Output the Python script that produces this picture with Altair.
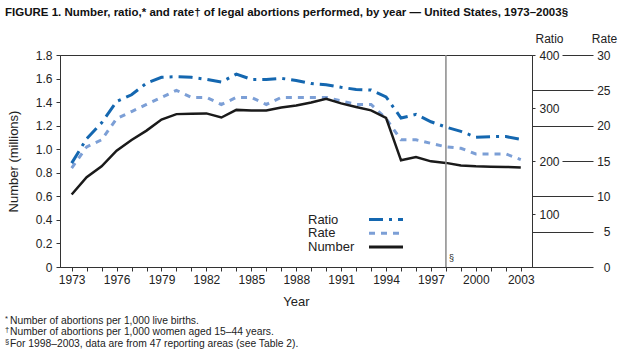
import altair as alt
import pandas as pd

# ---------------- data ----------------
years = list(range(1973, 2004))
number_millions = [0.616, 0.763, 0.855, 0.988, 1.079, 1.158, 1.252, 1.298, 1.301, 1.304,
                   1.269, 1.334, 1.329, 1.328, 1.354, 1.371, 1.397, 1.429, 1.389, 1.359,
                   1.330, 1.267, 0.906, 0.934, 0.897, 0.884, 0.862, 0.855, 0.852, 0.850,
                   0.845]
ratio_vals = [196, 242, 272, 312, 325, 347, 358, 359, 358, 354,
              349, 364, 354, 354, 356, 352, 346, 344, 339, 335,
              334, 321, 281, 288, 274, 264, 256, 245, 246, 246,
              241]
rate_vals = [14, 17, 18, 21, 22, 23, 24, 25, 24, 24,
             23, 24, 24, 23, 24, 24, 24, 24, 23.5, 23,
             23, 21, 18, 18, 17.5, 17, 16.8, 16, 16, 16,
             15.2]

left_ticks = [0, 0.2, 0.4, 0.6, 0.8, 1.0, 1.2, 1.4, 1.6, 1.8]
ratio_ticks = [100, 200, 300, 400]
rate_ticks_long = [0, 5, 10, 20, 25]
rate_ticks_short = [15, 30]
reference_year = [1998]

legend_labels = ["Ratio", "Rate", "Number"]
title_text = ("FIGURE 1. Number, ratio,* and rate\u2020 of legal abortions performed, "
              "by year \u2014 United States, 1973\u20132003\u00a7")
footnote_marks = ["*", "\u2020", "\u00a7"]
footnote_texts = ["Number of abortions per 1,000 live births.",
                  "Number of abortions per 1,000 women aged 15\u201344 years.",
                  "For 1998\u20132003, data are from 47 reporting areas (see Table 2)."]

# ---------------- styling ----------------
W, H = 472, 212
FONT = "Liberation Sans"
C_RATIO = "#1467b0"
C_RATE = "#7c9fd6"
C_NUM = "#1a1a1a"
AX = "#333333"

df = pd.DataFrame({"Year": years, "Number": number_millions,
                   "Ratio": ratio_vals, "Rate": rate_vals})
base = alt.Chart(df)

x_enc = alt.X(
    "Year:Q",
    scale=alt.Scale(domain=[1972.22, 2003.75], nice=False, zero=False),
    axis=alt.Axis(values=years, format="d",
                  labelExpr="(datum.value - 1973) % 3 == 0 ? datum.label : ''",
                  title="Year", titleFontSize=13, titleFontWeight="normal",
                  titlePadding=10, tickSize=4, labelPadding=3, labelFontSize=12,
                  grid=False, labelFlush=False, labelOverlap=False),
)

rate_line = base.mark_line(color=C_RATE, strokeWidth=3, strokeDash=[6, 6]).encode(
    x=x_enc,
    y=alt.Y("Rate:Q", scale=alt.Scale(domain=[0, 30], nice=False, zero=True),
            axis=alt.Axis(orient="right", values=rate_ticks_long, tickSize=61,
                          domain=False, grid=False, labelAlign="right",
                          labelPadding=17, labelFontSize=12,
                          title="Rate", titleAngle=0, titleX=72, titleY=-10,
                          titleAlign="center", titleBaseline="bottom",
                          titleFontSize=12, titleFontWeight="normal")),
)

rate_short_axis = base.mark_line(opacity=0).encode(
    x=x_enc,
    y=alt.Y("Rate:Q", scale=alt.Scale(domain=[0, 30], nice=False, zero=True),
            axis=alt.Axis(orient="right", values=rate_ticks_short, tickSize=31,
                          offset=30, domain=False, grid=False, labelAlign="right",
                          labelPadding=17, labelFontSize=12, title=None)),
)

ratio_line = base.mark_line(color=C_RATIO, strokeWidth=3,
                            strokeDash=[14, 6, 3, 6]).encode(
    x=x_enc,
    y=alt.Y("Ratio:Q", scale=alt.Scale(domain=[0, 400], nice=False, zero=True),
            axis=alt.Axis(orient="right", values=ratio_ticks, tickSize=3,
                          labelPadding=4, labelFontSize=12, grid=False,
                          title="Ratio", titleAngle=0, titleX=17, titleY=-10,
                          titleAlign="center", titleBaseline="bottom",
                          titleFontSize=12, titleFontWeight="normal")),
)

number_line = base.mark_line(color=C_NUM, strokeWidth=2.5).encode(
    x=x_enc,
    y=alt.Y("Number:Q", scale=alt.Scale(domain=[0, 1.8], nice=False, zero=True),
            axis=alt.Axis(orient="left", values=left_ticks, tickSize=4,
                          labelPadding=4, labelFontSize=12, grid=False,
                          labelExpr="datum.value == 0 ? '0' : format(datum.value, '.1f')",
                          title="Number (millions)", titleFontSize=13,
                          titleFontWeight="normal", titlePadding=15)),
)

ref_df = pd.DataFrame({"Year": reference_year, "mark": ["\u00a7"]})
ref_rule = alt.Chart(ref_df).mark_rule(color="#8a8a8a", strokeWidth=1.5).encode(x=x_enc)
ref_text = alt.Chart(ref_df).mark_text(align="left", baseline="middle", dx=3,
                                       fontSize=9, font=FONT, color="#222").encode(
    x=x_enc, y=alt.value(H - 9), text="mark:N")

# legend (custom, label on the left of the line sample)
leg_df = pd.DataFrame({"label": legend_labels})
leg_y = alt.Y("label:N", sort=legend_labels,
              scale=alt.Scale(type="point", range=[164.5, 192], padding=0),
              axis=None)
leg_text = alt.Chart(leg_df).mark_text(align="left", baseline="middle",
                                       fontSize=13, font=FONT, color="#222").encode(
    x=alt.value(248), y=leg_y, text="label:N")
leg_rule = alt.Chart(leg_df).mark_rule(strokeWidth=3).encode(
    x=alt.value(309), x2=alt.value(343), y=leg_y,
    color=alt.Color("label:N", scale=alt.Scale(domain=legend_labels,
                                               range=[C_RATIO, C_RATE, C_NUM]),
                    legend=None),
    strokeDash=alt.StrokeDash("label:N", scale=alt.Scale(
        domain=legend_labels, range=[[14, 6, 3, 6], [6, 6], [1, 0]]), legend=None),
)

# title & footnotes as text
title_df = pd.DataFrame({"t": [title_text]})
title_mark = alt.Chart(title_df).mark_text(align="left", baseline="middle",
                                           fontSize=11.5, fontWeight="bold",
                                           font=FONT, color="#111").encode(
    x=alt.value(-55), y=alt.value(-42), text="t:N")

fn_df = pd.DataFrame({"mk": footnote_marks, "txt": footnote_texts,
                      "line": ["a", "b", "c"]})
fn_y = alt.Y("line:N", scale=alt.Scale(type="point", range=[265.5, 289], padding=0),
             axis=None)
fn_text = alt.Chart(fn_df).mark_text(align="left", baseline="middle", fontSize=10.3,
                                     font=FONT, color="#222").encode(
    x=alt.value(-50), y=fn_y, text="txt:N")
fn_mark = alt.Chart(fn_df).mark_text(align="left", baseline="middle", fontSize=7.5,
                                     font=FONT, color="#222", dy=-2).encode(
    x=alt.value(-55), y=fn_y, text="mk:N")

chart = alt.layer(
    rate_line, rate_short_axis, ratio_line, number_line,
    ref_rule, ref_text, leg_text, leg_rule, title_mark, fn_text, fn_mark,
).resolve_scale(y="independent", color="independent", strokeDash="independent").properties(
    width=W, height=H,
    autosize=alt.AutoSizeParams(type="none"),
    padding={"left": 60, "top": 55, "right": 108, "bottom": 88},
    background="white",
).configure_view(stroke=AX, strokeWidth=1).configure_axis(
    labelFont=FONT, titleFont=FONT, labelColor="#222", titleColor="#222",
    tickColor=AX, domainColor=AX,
)

chart.save("out.html", embed_options={"renderer": "svg", "actions": False})
